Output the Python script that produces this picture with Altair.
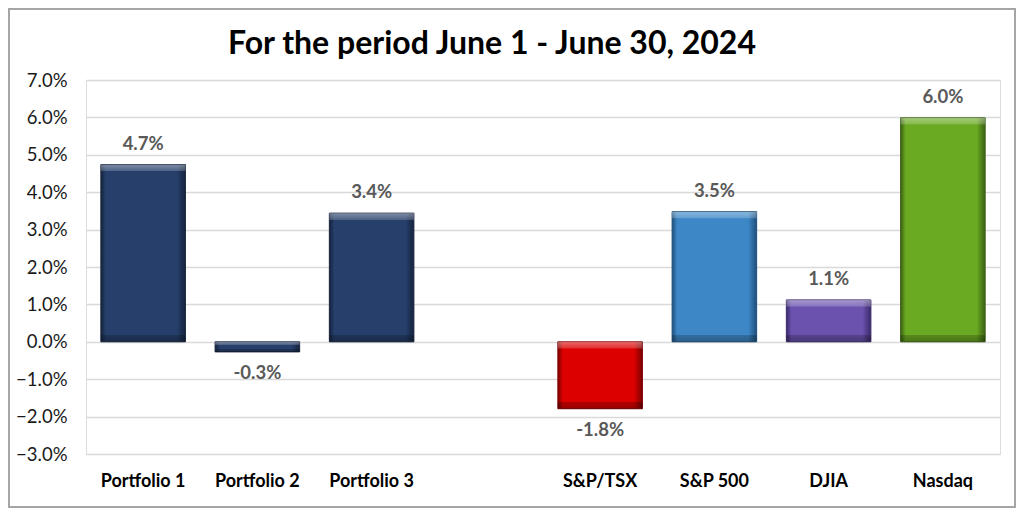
import altair as alt
import pandas as pd

title_text = "For the period June 1 - June 30, 2024"
domain = ["Portfolio 1", "Portfolio 2", "Portfolio 3", "", "S&P/TSX", "S&P 500", "DJIA", "Nasdaq"]
names = ["Portfolio 1", "Portfolio 2", "Portfolio 3", "S&P/TSX", "S&P 500", "DJIA", "Nasdaq"]
values = [0.0474, -0.0027, 0.0344, -0.0179, 0.0348, 0.0112, 0.0599]
colors = ["#263f6b", "#263f6b", "#263f6b", "#dc0000", "#3d87c6", "#6a52ae", "#6aa922"]
edges = ["#15233d", "#15233d", "#15233d", "#7a0000", "#1f4f7a", "#3a2a6a", "#3a6012"]

df = pd.DataFrame({"name": names, "value": values, "color": colors, "edge": edges})

FONT = "Lato"
W, H = 914, 374
PX_PER_UNIT = H / 0.10

x = alt.X("name:N", scale=alt.Scale(domain=domain, paddingInner=0.26, paddingOuter=0.13),
          axis=alt.Axis(title=None, labelAngle=0, labelFont=FONT, labelFontSize=18,
                        labelFontWeight="bold", labelColor="#000000", ticks=False,
                        domain=False, labelPadding=18))
y = alt.Y("value:Q", scale=alt.Scale(domain=[-0.03, 0.07], nice=False),
          axis=alt.Axis(title=None, format=".1%", values=[i / 100 for i in range(-3, 8)],
                        labelFont=FONT, labelFontSize=18.5, labelColor="#1a1a1a",
                        ticks=False, domain=False, labelPadding=19,
                        gridColor="#d9d9d9", gridWidth=1.3))

layers = []
for i in range(len(names)):
    sub = df.iloc[[i]]
    c, e = colors[i], edges[i]
    hpx = abs(values[i]) * PX_PER_UNIT
    f = min(7.0 / hpx, 0.3)
    grad_h = {"x1": 0, "y1": 0, "x2": 1, "y2": 0, "gradient": "linear",
              "stops": [{"offset": 0, "color": e}, {"offset": 0.06, "color": c},
                        {"offset": 0.9, "color": c}, {"offset": 1, "color": e}]}
    layers.append(
        alt.Chart(sub).mark_bar(fill=grad_h, stroke=e, strokeWidth=1)
        .encode(x=x, y=y)
    )
    grad_v = {"x1": 0, "y1": 0, "x2": 0, "y2": 1, "gradient": "linear",
              "stops": [{"offset": 0, "color": "rgba(255,255,255,0.4)"},
                        {"offset": f * 0.9, "color": "rgba(255,255,255,0.2)"},
                        {"offset": f, "color": "rgba(255,255,255,0)"},
                        {"offset": 1 - f, "color": "rgba(0,0,0,0)"},
                        {"offset": 1 - f * 0.9, "color": "rgba(0,0,0,0.2)"},
                        {"offset": 1, "color": "rgba(0,0,0,0.3)"}]}
    layers.append(
        alt.Chart(sub).mark_bar(fill=grad_v)
        .encode(x=x, y=y)
    )

label_text = alt.Text("label:N")
base_lbl = alt.Chart(df).transform_calculate(
    label="replace(format(datum.value, '.1%'), '\u2212', '-')"
)
pos_labels = base_lbl.transform_filter("datum.value >= 0").mark_text(
    baseline="bottom", dy=-11, font=FONT, fontSize=18.5, fontWeight="bold", color="#595959"
).encode(x=x, y=y, text=label_text)

neg_labels = base_lbl.transform_filter("datum.value < 0").mark_text(
    baseline="top", dy=12, font=FONT, fontSize=18.5, fontWeight="bold", color="#595959"
).encode(x=x, y=y, text=label_text)

border = alt.Chart(pd.DataFrame({"k": [0]})).mark_rect(
    filled=False, stroke="#a6a6a6", strokeWidth=2
).encode(x=alt.value(-77), x2=alt.value(929), y=alt.value(-71), y2=alt.value(427))

title = alt.Chart(pd.DataFrame({"t": [title_text]})).mark_text(
    font=FONT, fontSize=32, fontWeight="bold", color="#000000",
    align="center", baseline="middle"
).encode(x=alt.value(406), y=alt.value(-36), text="t:N")

chart = alt.layer(*layers, pos_labels, neg_labels, border, title).properties(
    width=W, height=H,
    padding={"left": 78, "top": 72, "right": 16, "bottom": 54},
    autosize=alt.AutoSizeParams(type="none"),
).configure_view(stroke=None).configure(background="white")

chart.save("out.html", embed_options={"renderer": "svg", "actions": False})
